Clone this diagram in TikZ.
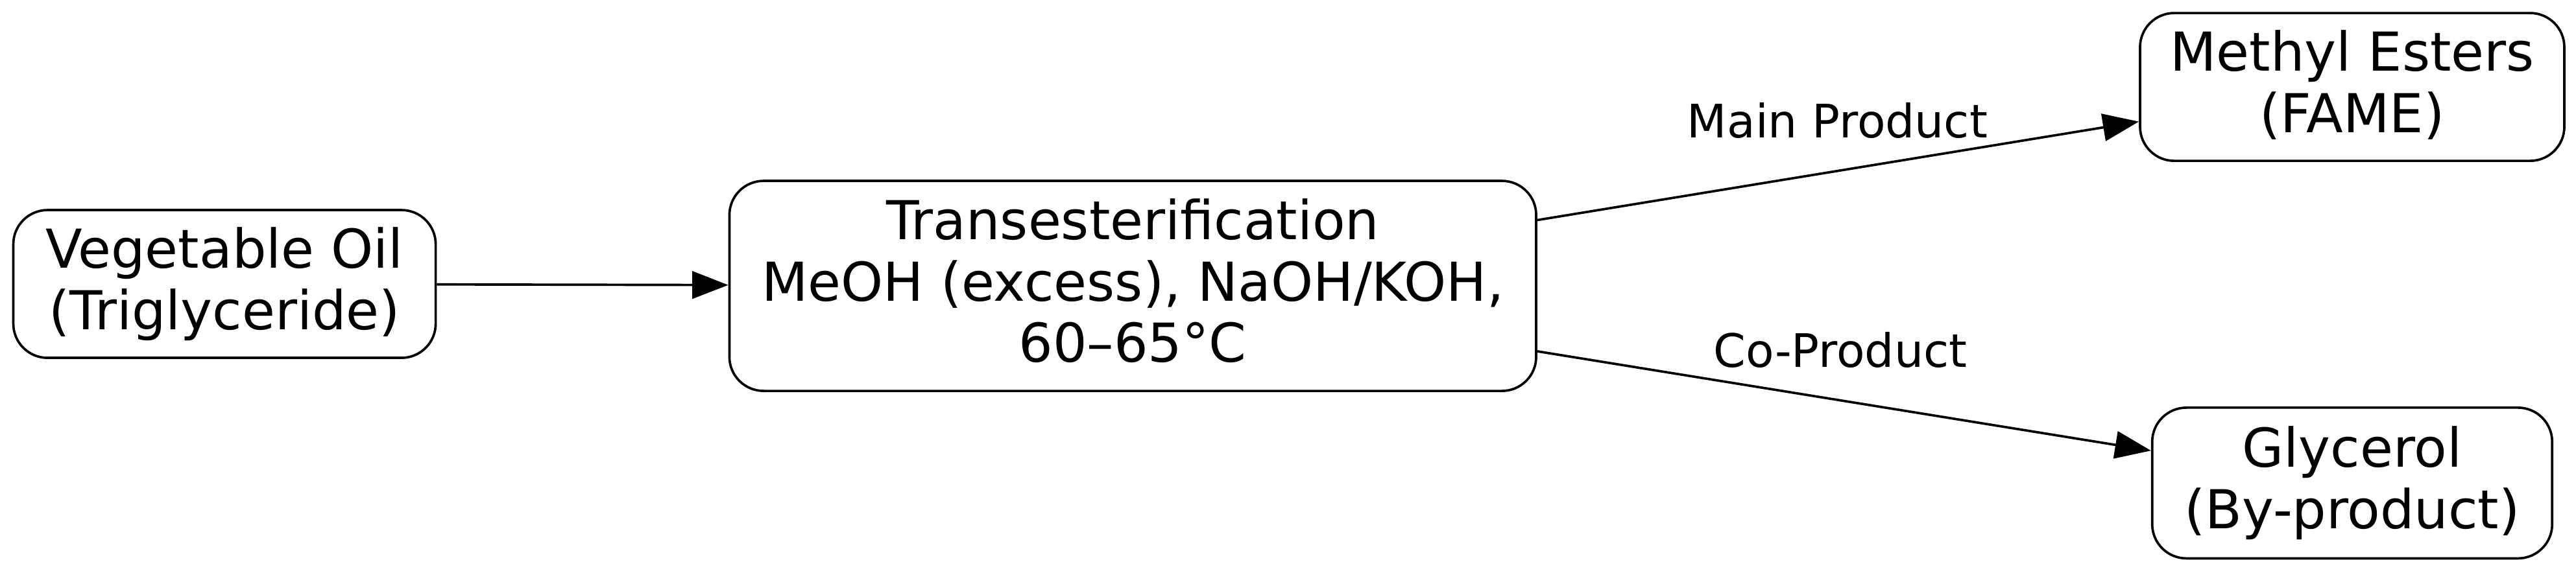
\documentclass[tikz,border=0pt]{standalone}
\usepackage{fontspec}
\setmainfont{DejaVu Sans}
\usetikzlibrary{arrows.meta}

\begin{document}
\begin{tikzpicture}[line width=0.7pt, >={Triangle[length=10.5pt,width=8pt]},
    box/.style = {draw, rounded corners=10pt, align=center, inner sep=0pt,
        text depth=3.2pt, font=\fontsize{15.7}{18}\selectfont},
    lbl/.style = {font=\fontsize{13.5}{15}\selectfont}]
    \useasboundingbox (0,0) rectangle (26.47,5.887);
    % Disegna i nodi
    \node[box, minimum width=4.34cm, minimum height=1.52cm] (oil) at (2.307,2.967) {Vegetable Oil\\(Triglyceride)};
    \node[box, minimum width=8.29cm, minimum height=2.16cm] (trans) at (11.64,2.947) {Transesterification\\MeOH (excess), NaOH/KOH,\\60–65°C};
    \node[box, minimum width=4.36cm, minimum height=1.52cm] (fame) at (24.17,4.993) {Methyl Esters\\(FAME)};
    \node[box, minimum width=4.11cm, minimum height=1.55cm] (glyc) at (24.17,0.92) {Glycerol\\(By-product)};

    \draw[->] (oil) to (trans);
    \draw[->] (trans) to (fame);
    \draw[->] (trans) to (glyc);

    \node[lbl] (mainlbl) at (18.88,4.65) {Main Product};
    \node[lbl] (colbl) at (18.91,2.29) {Co-Product};

\end{tikzpicture}
\end{document}
